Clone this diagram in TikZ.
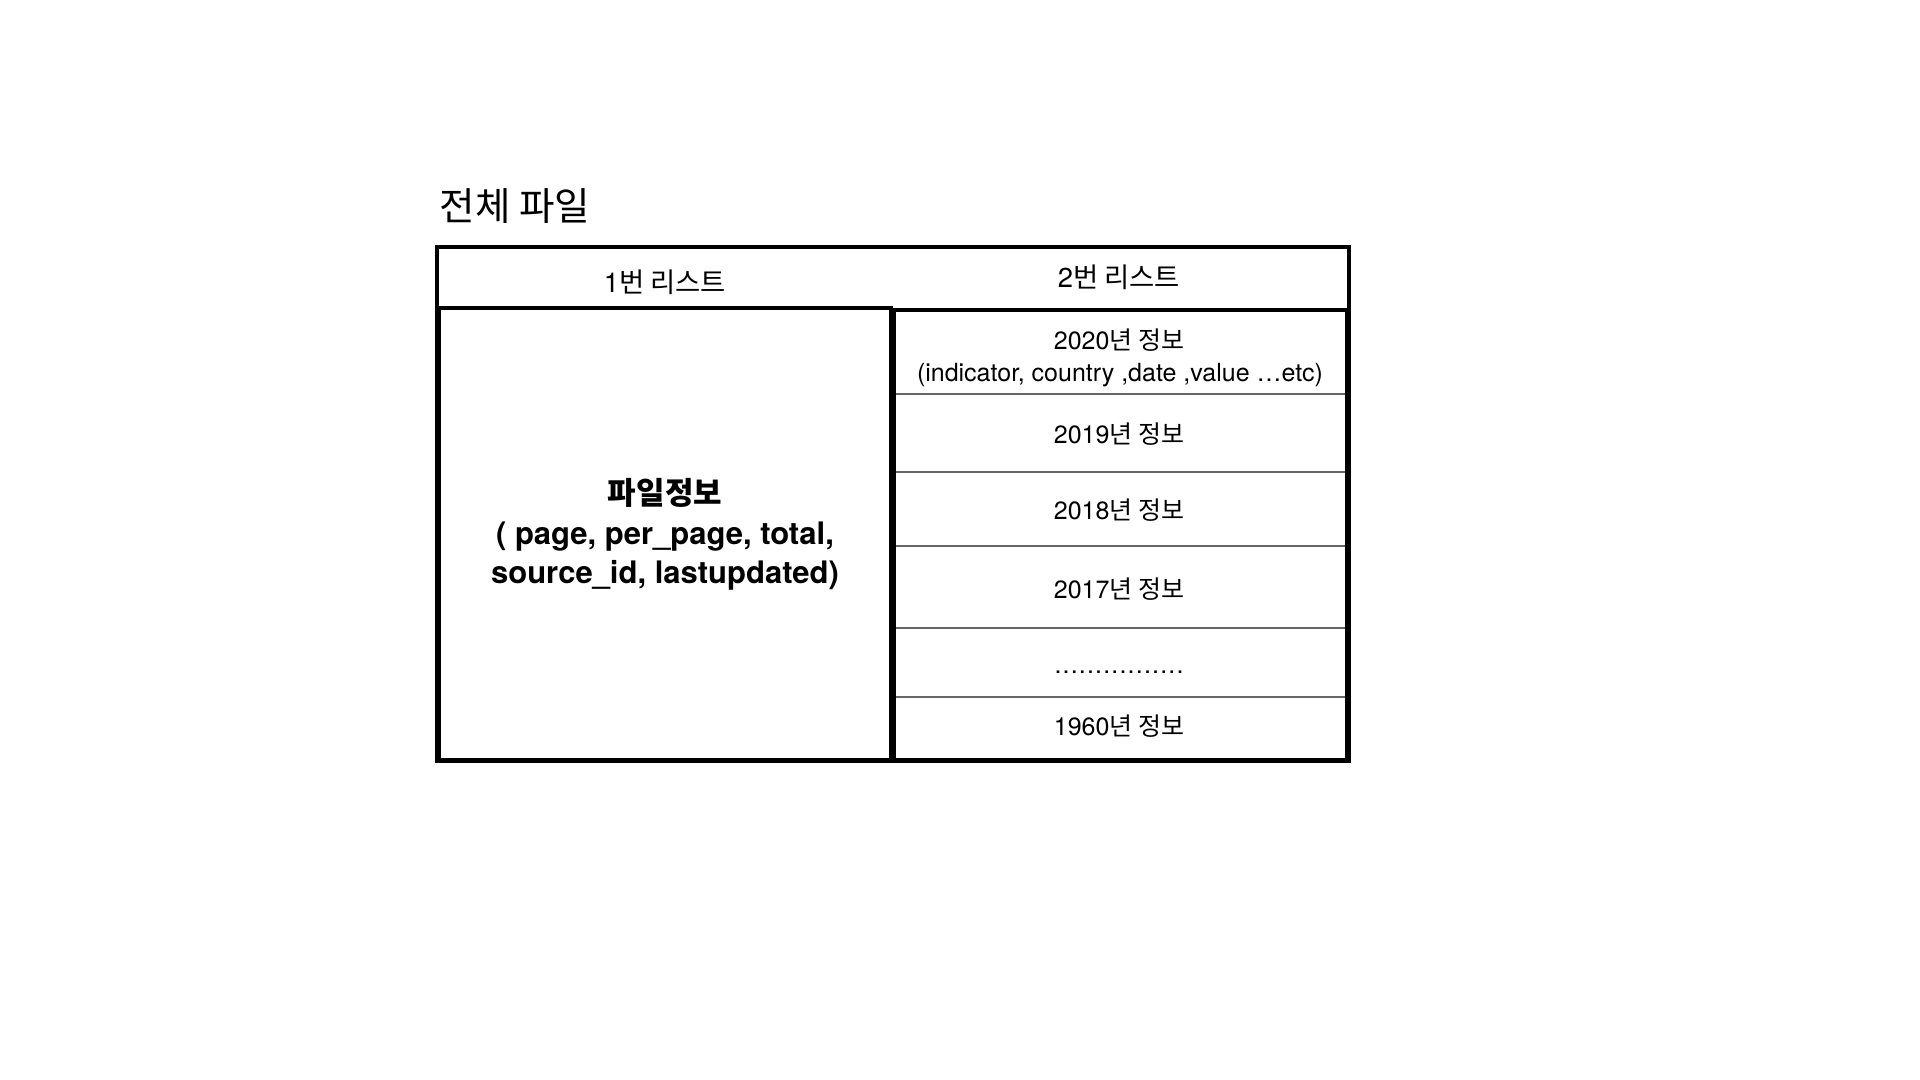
\documentclass[tikz,border=0pt]{standalone}
\usepackage{fontspec}
\setmainfont{TeX Gyre Heros}
\newfontfamily\kr{Noto Sans CJK KR}
\begin{document}
\begin{tikzpicture}[x=0.5pt,y=-0.5pt,
  thickbox/.style={draw=black,line width=2pt},
  sepline/.style={draw=black!60,line width=1pt},
  titletxt/.style={inner sep=0pt,font=\kr\fontsize{19.3}{22}\selectfont},
  headtxt/.style={inner sep=0pt,font=\fontsize{13.7}{16}\selectfont},
  rowtxt/.style={inner sep=0pt,font=\fontsize{12.5}{15}\selectfont},
  infotxt/.style={inner sep=0pt,font=\bfseries\fontsize{15.5}{18}\selectfont}]
\useasboundingbox (0,0) rectangle (1920,1080);
\fill[white] (0,0) rectangle (1920,1080);
% boxes
\draw[thickbox] (437,247) rectangle (1349,761);
\draw[thickbox] (439,308) rectangle (891,760);
\draw[thickbox] (894,310) rectangle (1347,760);
% separators
\coordinate (s1l) at (896,394); \coordinate (s1r) at (1345,394);
\coordinate (s2l) at (896,472); \coordinate (s2r) at (1345,472);
\coordinate (s3l) at (896,546); \coordinate (s3r) at (1345,546);
\coordinate (s4l) at (896,628); \coordinate (s4r) at (1345,628);
\coordinate (s5l) at (896,697); \coordinate (s5r) at (1345,697);
\draw[sepline] (s1l) -- (s1r);
\draw[sepline] (s2l) -- (s2r);
\draw[sepline] (s3l) -- (s3r);
\draw[sepline] (s4l) -- (s4r);
\draw[sepline] (s5l) -- (s5r);
% texts
\node[titletxt] (title) at (515,206) {전체 파일};
\node[headtxt] (h1) at (665,282) {1{\kr 번 리스트}};
\node[headtxt] (h2) at (1119,277) {2{\kr 번 리스트}};
\node[rowtxt] (y2020) at (1119,340) {2020{\kr 년 정보}};
\node[rowtxt] (ind) at (1120,375) {(indicator, country ,date ,value …etc)};
\node[rowtxt] (y2019) at (1119,434) {2019{\kr 년 정보}};
\node[rowtxt] (y2018) at (1119,510) {2018{\kr 년 정보}};
\node[rowtxt] (y2017) at (1119,589) {2017{\kr 년 정보}};
\node[rowtxt] (dots) at (1119,672) {\hbox to 64.5pt{.\hfill.\hfill.\hfill.\hfill.\hfill.\hfill.\hfill.\hfill.\hfill.\hfill.\hfill.\hfill.\hfill.\hfill.\hfill.}};
\node[rowtxt] (y1960) at (1119,726) {1960{\kr 년 정보}};
\node[infotxt] (info1) at (665,493) {{\kr 파일정보}};
\node[infotxt] (info2) at (665,537) {( page, per\_page, total,};
\node[infotxt] (info3) at (665,575) {source\_id, lastupdated)};
\end{tikzpicture}
\end{document}
